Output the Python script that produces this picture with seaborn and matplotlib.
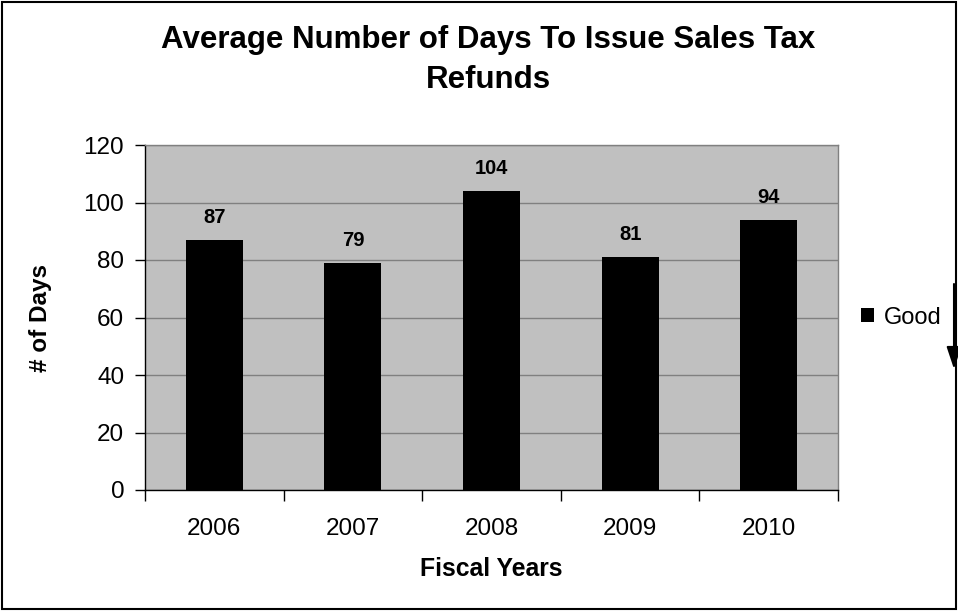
import matplotlib
matplotlib.use("Agg")
import matplotlib.pyplot as plt
import seaborn as sns
import pandas as pd
from matplotlib.patches import Rectangle

years = ["2006", "2007", "2008", "2009", "2010"]
days = [87, 79, 104, 81, 94]
y_ticks = [0, 20, 40, 60, 80, 100, 120]

sns.set_theme(style="white")
plt.rcParams["font.family"] = ["Liberation Sans", "DejaVu Sans"]
plt.rcParams.update({"text.color": "black", "axes.labelcolor": "black",
                     "xtick.color": "black", "ytick.color": "black"})

df = pd.DataFrame({"Fiscal Years": years, "Days": days})

W, H = 958, 611
fig = plt.figure(figsize=(W / 100, H / 100), dpi=100)
ax = fig.add_axes([145 / W, 1 - 490 / H, (838 - 145) / W, (490 - 145) / H])

sns.barplot(data=df, x="Fiscal Years", y="Days", color="black", width=0.41,
            saturation=1, ax=ax, zorder=3, label="Good", linewidth=0, edgecolor="black")

ax.set_facecolor("#c0c0c0")
ax.set_ylim(0, 120)
ax.set_xlim(-0.5, len(years) - 0.5)
ax.set_yticks(y_ticks)
ax.yaxis.grid(True, color="#808080", linewidth=1, zorder=0)
ax.set_axisbelow(True)

# category boundary ticks on the x axis, labels at category centres
ax.set_xticks([i - 0.5 for i in range(len(years) + 1)], minor=False)
ax.set_xticklabels([])
ax.set_xticks(range(len(years)), minor=True)
ax.set_xticklabels(years, minor=True)
ax.tick_params(axis="x", which="major", direction="out", length=8, width=1, color="black", bottom=True)
ax.tick_params(axis="x", which="minor", length=0, labelsize=17.5, pad=20, bottom=True)
ax.tick_params(axis="y", direction="out", length=7, width=1, color="black", labelsize=17.5, left=True, pad=8)

for side in ["top", "right"]:
    ax.spines[side].set_color("#808080")
    ax.spines[side].set_linewidth(1)
for side in ["left", "bottom"]:
    ax.spines[side].set_color("black")
    ax.spines[side].set_linewidth(1)

for i, v in enumerate(days):
    ax.text(i, v + 4.5, str(v), ha="center", va="bottom", fontsize=14.5, fontweight="bold")

ax.set_xlabel("Fiscal Years", fontsize=17.8, fontweight="bold")
ax.set_ylabel("# of Days", fontsize=17.5, fontweight="bold")
ax.xaxis.set_label_coords(0.5, (490 - 569) / 345)
ax.yaxis.set_label_coords((40 - 145) / 693, 0.5)
ax.xaxis.label.set_va("center")
ax.yaxis.label.set_va("center")

fig.text(488 / W, 1 - 60 / H, "Average Number of Days To Issue Sales Tax\nRefunds",
         fontsize=22.5, fontweight="bold", ha="center", va="center", linespacing=1.42)

ax.legend(loc="center left", bbox_to_anchor=(1.02, 0.5), frameon=False,
          fontsize=17, handlelength=0.55, handleheight=0.55, handletextpad=0.4,
          borderaxespad=0)

# "lower is better" arrow beside the legend
ax.annotate("", xy=(954 / W, 1 - 369 / H), xytext=(954 / W, 1 - 284 / H),
            xycoords="figure fraction", textcoords="figure fraction",
            arrowprops=dict(arrowstyle="-|>,head_length=0.9,head_width=0.3",
                            color="black", lw=1.5, mutation_scale=15, shrinkA=0, shrinkB=0))

# outer border of the chart
fig.add_artist(Rectangle((2 / W, 2 / H), 954 / W, 607 / H, transform=fig.transFigure,
                         fill=False, edgecolor="black", linewidth=1.5))

fig.savefig("out.png", dpi=100)
